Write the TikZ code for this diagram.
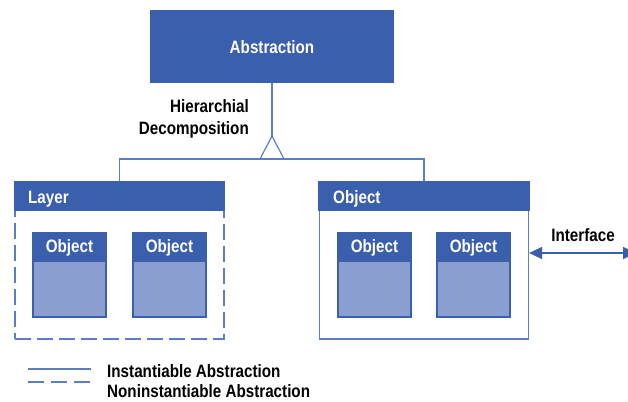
\documentclass[tikz,border=0pt]{standalone}
\usepackage{fontspec}
\setmainfont[FakeStretch=0.85]{Liberation Sans}
\usetikzlibrary{arrows.meta}

\definecolor{boxblue}{HTML}{3A5FAD}
\definecolor{paleblue}{HTML}{8A9FD0}
\definecolor{lineblue}{HTML}{5E7EC4}

\tikzset{
  lbl/.style={font=\fontsize{17.9}{20}\selectfont\bfseries, inner sep=0pt},
  whitelbl/.style={lbl, text=white},
  darkbox/.style={fill=boxblue, draw=none, inner sep=0pt},
  frame/.style={draw=lineblue, line width=1.2pt, fill=white, inner sep=0pt,
                minimum width=209pt, minimum height=157pt},
  dashframe/.style={frame, dash pattern=on 16pt off 6pt},
  link/.style={draw=lineblue, line width=1.2pt},
  objbox/.style={darkbox, minimum width=75pt, minimum height=86pt},
}

% an inner object: dark box with a pale body below its header
\newcommand{\innerobj}[3]{% name, centre x, centre y
  \node[objbox] (#1) at (#2,#3) {};
  \fill[paleblue] ([xshift=2.5pt,yshift=2pt]#1.south west) rectangle ([xshift=-2.5pt,yshift=-30pt]#1.north east);
  \node[whitelbl, anchor=base] at ([yshift=-21pt]#1.north) {Object};
}

\begin{document}
\begin{tikzpicture}[x=1pt, y=-1pt]
\useasboundingbox (0,0) rectangle (628,401);

% top abstraction
\node[darkbox, minimum width=244pt, minimum height=73pt] (abs) at (272,46.5) {};
\node[whitelbl, anchor=base] at (272,54) {Abstraction};

% decomposition label
\node[lbl, anchor=base east] at (249,113) {Hierarchial};
\node[lbl, anchor=base east] at (249,134) {Decomposition};

% layer (noninstantiable) and object (instantiable) frames
\node[dashframe] (layer) at (119.5,260.5) {};
\node[frame] (obj) at (424,260.5) {};
\fill[boxblue] (layer.north west) rectangle ([yshift=-30pt]layer.north east);
\fill[boxblue] ([xshift=-0.6pt]obj.north west) rectangle ([xshift=0.6pt,yshift=-30pt]obj.north east);
\node[whitelbl, anchor=base west] at (28,203) {Layer};
\node[whitelbl, anchor=base west] at (333,203) {Object};

% hierarchy connector with open triangle
\coordinate (apex) at (272,136);
\coordinate (bar) at (272,159);
\draw[link] (abs.south) -- (apex);
\draw[link] (apex) -- (260,159) -- (284,159) -- cycle;
\draw[link] (layer.north) |- (bar) -| (obj.north);

% contained objects
\innerobj{la}{69.5}{275}
\innerobj{lb}{169.5}{275}
\innerobj{oa}{374.5}{275}
\innerobj{ob}{473.5}{275}

% interface
\coordinate (ifend) at (636,253);
\draw[link, line width=1.6pt, {Triangle[length=13pt,width=12pt]}-{Triangle[length=13pt,width=12pt]}, draw=boxblue, fill=boxblue]
  (obj.east |- ifend) -- (ifend);
\node[lbl, anchor=base] at (583,241) {Interface};

% legend
\coordinate (s1) at (28,369);
\coordinate (s2) at (91,369);
\coordinate (d1) at (28,382);
\coordinate (d2) at (91,382);
\draw[link] (s1) -- (s2);
\draw[link, dash pattern=on 16pt off 7pt] (d1) -- (d2);
\node[lbl, anchor=base west] at (107,377) {Instantiable Abstraction};
\node[lbl, anchor=base west] at (107,397.5) {Noninstantiable Abstraction};
\end{tikzpicture}
\end{document}
